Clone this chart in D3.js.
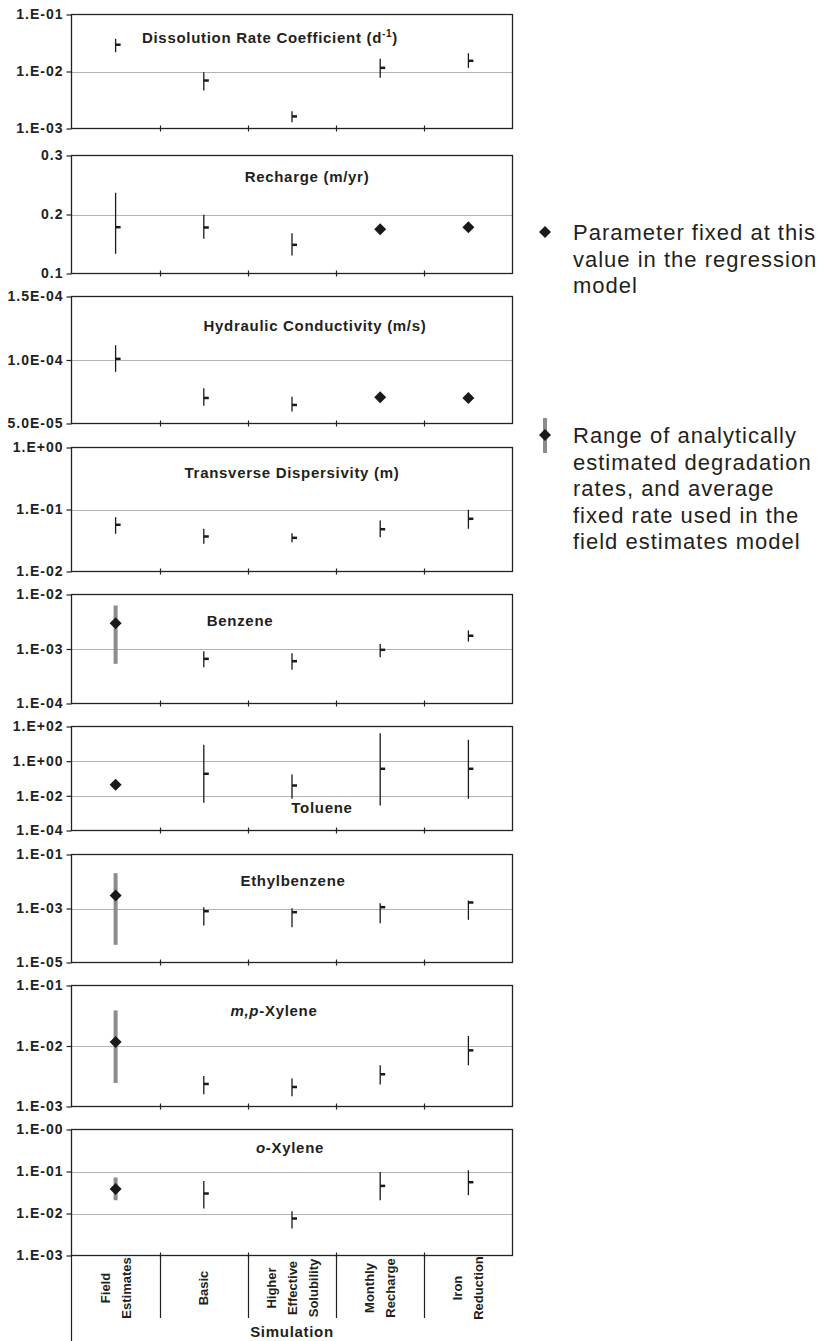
<!DOCTYPE html>
<html>
<head>
<meta charset="utf-8">
<script src="https://cdn.jsdelivr.net/npm/d3@7"></script>
<style>
  body { margin: 0; background: #fff; }
  text { font-family: "Liberation Sans", Arial, sans-serif; fill: #231f20; }
</style>
</head>
<body>
<div id="chart"></div>
<script>
// simulations along the x axis
const simulations = ["Field Estimates", "Basic", "Higher Effective Solubility", "Monthly Recharge", "Iron Reduction"];
const simulationLines = [["Field", "Estimates"], ["Basic"], ["Higher", "Effective", "Solubility"], ["Monthly", "Recharge"], ["Iron", "Reduction"]];

// panel titles as [text, style] pieces
const panelTitles = [
    [["Dissolution Rate Coefficient (d", ""], ["-1", "sup"], [")", "back"]],
    [["Recharge (m/yr)", ""]],
    [["Hydraulic Conductivity (m/s)", ""]],
    [["Transverse Dispersivity (m)", ""]],
    [["Benzene", ""]],
    [["Toluene", ""]],
    [["Ethylbenzene", ""]],
    [["m,p", "italic"], ["-Xylene", ""]],
    [["o", "italic"], ["-Xylene", ""]]
];
const scaleTypes = ["log", "linear", "linear", "log", "log", "log", "log", "log", "log"];
const tickValues = [
    [1e-3, 1e-2, 1e-1],
    [0.1, 0.2, 0.3],
    [5e-5, 1e-4, 1.5e-4],
    [1e-2, 1e-1, 1],
    [1e-4, 1e-3, 1e-2],
    [1e-4, 1e-2, 1, 100],
    [1e-5, 1e-3, 1e-1],
    [1e-3, 1e-2, 1e-1],
    [1e-3, 1e-2, 1e-1, 1]
];
const tickLabels = [
    ["1.E-03", "1.E-02", "1.E-01"],
    ["0.1", "0.2", "0.3"],
    ["5.0E-05", "1.0E-04", "1.5E-04"],
    ["1.E-02", "1.E-01", "1.E+00"],
    ["1.E-04", "1.E-03", "1.E-02"],
    ["1.E-04", "1.E-02", "1.E+00", "1.E+02"],
    ["1.E-05", "1.E-03", "1.E-01"],
    ["1.E-03", "1.E-02", "1.E-01"],
    ["1.E-03", "1.E-02", "1.E-01", "1.E-00"]
];

// estimated value, lower and upper bound, one row per panel
const estimates = [
    [0.0295, 0.00695, 0.00163, 0.0116, 0.0154],
    [0.1785, 0.178, 0.1486, 0.175, 0.1785],
    [1.009e-4, 7.01e-5, 6.46e-5, 7.07e-5, 7.01e-5],
    [0.0567, 0.0367, 0.0349, 0.0481, 0.0708],
    [0.00297, 0.00066, 0.000597, 0.000966, 0.00175],
    [0.0433, 0.187, 0.0394, 0.363, 0.363],
    [0.00303, 0.000794, 0.00073, 0.00112, 0.00167],
    [0.0116, 0.00236, 0.0021, 0.00341, 0.00848],
    [0.0385, 0.0299, 0.0076, 0.0454, 0.0556]
];
const lowerBounds = [
    [0.0218, 0.00465, 0.00129, 0.00776, 0.0116],
    [0.1334, 0.1588, 0.1305, null, null],
    [9.07e-5, 6.39e-5, 5.94e-5, null, null],
    [0.0406, 0.028, 0.0297, 0.0357, 0.0489],
    [0.000535, 0.000464, 0.000415, 0.000708, 0.00137],
    [0.032, 0.00395, 0.00673, 0.00277, 0.00673],
    [4.53e-5, 0.000234, 0.000203, 0.000286, 0.000381],
    [0.00245, 0.0016, 0.00148, 0.00231, 0.0048],
    [0.0207, 0.0131, 0.0044, 0.0207, 0.0273]
];
const upperBounds = [
    [0.0375, 0.0097, 0.0020, 0.0167, 0.0209],
    [0.2368, 0.1995, 0.1683, null, null],
    [1.116e-4, 7.77e-5, 7.11e-5, null, null],
    [0.0752, 0.0489, 0.0415, 0.0665, 0.0989],
    [0.00628, 0.00091, 0.000838, 0.00124, 0.00219],
    [0.058, 8.8, 0.17, 41, 17.1],
    [0.0203, 0.00112, 0.00102, 0.00157, 0.00198],
    [0.0387, 0.0032, 0.0029, 0.0048, 0.0146],
    [0.072, 0.0597, 0.0113, 0.0978, 0.107]
];
// "range" = regression estimate with range, "fixed" = fixed parameter, "field" = analytical range + average
const markTypes = [
    ["range", "range", "range", "range", "range"],
    ["range", "range", "range", "fixed", "fixed"],
    ["range", "range", "range", "fixed", "fixed"],
    ["range", "range", "range", "range", "range"],
    ["field", "range", "range", "range", "range"],
    ["field", "range", "range", "range", "range"],
    ["field", "range", "range", "range", "range"],
    ["field", "range", "range", "range", "range"],
    ["field", "range", "range", "range", "range"]
];

const legendFixed = ["Parameter fixed at this", "value in the regression", "model"];
const legendField = ["Range of analytically", "estimated degradation", "rates, and average", "fixed rate used in the", "field estimates model"];

// layout
const width = 819, height = 1341
const left = 71.5, right = 512.5
const panelTop = [14.5, 155.5, 296.5, 447.5, 594.5, 726.5, 854.5, 985.5, 1129.5]
const panelBottom = [128.5, 273.5, 423.5, 571.5, 703.5, 830.5, 962.5, 1106.5, 1255.5]
const titlePos = [[270, 43], [307, 182], [315, 331], [292, 478], [240, 626], [322, 813], [293, 886], [274, 1016], [290, 1153]]

const svg = d3.select("#chart")
    .append("svg")
    .attr("width", width)
    .attr("height", height)

const x = d3.scaleBand()
    .domain(simulations)
    .range([left, right])
const cx = s => x(s) + x.bandwidth() / 2

const diamond = d3.symbol().type(d3.symbolSquare).size(72)

function drawDiamond(g, px, py) {
    g.append("path")
        .attr("d", diamond())
        .attr("transform", `translate(${px},${py}) rotate(45)`)
        .attr("fill", "#1a1a1a")
}

panelTitles.forEach((title, p) => {
    const ticks = tickValues[p]
    const y = (scaleTypes[p] === "log" ? d3.scaleLog() : d3.scaleLinear())
        .domain([ticks[0], ticks[ticks.length - 1]])
        .range([panelBottom[p], panelTop[p]])

    const g = svg.append("g")

    // gridlines at the inner ticks
    g.selectAll(".grid")
        .data(ticks.slice(1, -1))
        .join("line")
        .attr("x1", left)
        .attr("x2", right)
        .attr("y1", d => Math.round(y(d)) + 0.5)
        .attr("y2", d => Math.round(y(d)) + 0.5)
        .attr("stroke", "#b3b3b3")
        .attr("stroke-width", 1)

    // y axis
    const ax = g.append("g")
        .attr("transform", `translate(${left},0)`)
        .call(d3.axisLeft(y)
            .tickValues(ticks)
            .tickSize(5)
            .tickSizeOuter(0)
            .tickFormat((d, i) => tickLabels[p][i]))
    ax.select(".domain").remove()
    ax.selectAll("line").attr("stroke", "#222").attr("stroke-width", 1.2)
    ax.selectAll("text")
        .attr("x", -8)
        .style("font-size", "14px")
        .style("font-weight", "bold")
        .style("letter-spacing", "1px")
        .attr("fill", "#231f20")

    // frame
    g.append("rect")
        .attr("x", left)
        .attr("y", panelTop[p])
        .attr("width", right - left)
        .attr("height", panelBottom[p] - panelTop[p])
        .attr("fill", "none")
        .attr("stroke", "#222")
        .attr("stroke-width", 1.3)

    // category ticks crossing the bottom axis
    g.selectAll(".xtick")
        .data(simulations.slice(1))
        .join("line")
        .attr("x1", d => Math.round(x(d)) + 0.5)
        .attr("x2", d => Math.round(x(d)) + 0.5)
        .attr("y1", panelBottom[p] - 3)
        .attr("y2", panelBottom[p] + 3)
        .attr("stroke", "#222")
        .attr("stroke-width", 1.2)

    // title
    const t = g.append("text")
        .attr("x", titlePos[p][0])
        .attr("y", titlePos[p][1])
        .attr("text-anchor", "middle")
        .style("font-size", "15px")
        .style("font-weight", "bold")
        .style("letter-spacing", "0.7px")
    title.forEach(([txt, kind]) => {
        const ts = t.append("tspan").text(txt)
        if (kind === "italic") ts.style("font-style", "italic")
        if (kind === "sup") ts.attr("dy", -6).style("font-size", "10px")
        if (kind === "back") ts.attr("dy", 6)
    })

    // marks
    simulations.forEach((s, i) => {
        const type = markTypes[p][i]
        const px = cx(s)
        const est = estimates[p][i]
        if (type === "range") {
            g.append("line")
                .attr("x1", px).attr("x2", px)
                .attr("y1", y(lowerBounds[p][i]))
                .attr("y2", y(upperBounds[p][i]))
                .attr("stroke", "#1a1a1a")
                .attr("stroke-width", 1.3)
            g.append("line")
                .attr("x1", px).attr("x2", px + 5)
                .attr("y1", y(est)).attr("y2", y(est))
                .attr("stroke", "#1a1a1a")
                .attr("stroke-width", 2.5)
        } else if (type === "field") {
            g.append("line")
                .attr("x1", px).attr("x2", px)
                .attr("y1", y(lowerBounds[p][i]))
                .attr("y2", y(upperBounds[p][i]))
                .attr("stroke", "#8c8c8c")
                .attr("stroke-width", 4)
            drawDiamond(g, px, y(est))
        } else {
            drawDiamond(g, px, y(est))
        }
    })
})

// category label area under the last panel
const base = panelBottom[panelBottom.length - 1]
svg.append("line")
    .attr("x1", left).attr("x2", left)
    .attr("y1", base).attr("y2", height)
    .attr("stroke", "#222").attr("stroke-width", 1.2)
svg.selectAll(".sep")
    .data(simulations.slice(1))
    .join("line")
    .attr("x1", d => Math.round(x(d)) + 0.5)
    .attr("x2", d => Math.round(x(d)) + 0.5)
    .attr("y1", base)
    .attr("y2", 1318)
    .attr("stroke", "#222")
    .attr("stroke-width", 1.2)

simulationLines.forEach((lines, i) => {
    const px = cx(simulations[i])
    lines.forEach((line, j) => {
        svg.append("text")
            .attr("transform", `translate(${px + (j - (lines.length - 1) / 2) * 21},1288) rotate(-90)`)
            .attr("text-anchor", "middle")
            .attr("dy", "0.35em")
            .style("font-size", "13px")
            .style("font-weight", "bold")
            .text(line)
    })
})

svg.append("text")
    .attr("x", 292)
    .attr("y", 1337)
    .attr("text-anchor", "middle")
    .style("font-size", "15px")
    .style("font-weight", "bold")
    .style("letter-spacing", "0.7px")
    .text("Simulation")

// legend
const legend = svg.append("g")
drawDiamond(legend, 545, 232)
legend.append("line")
    .attr("x1", 545).attr("x2", 545)
    .attr("y1", 418).attr("y2", 453)
    .attr("stroke", "#8c8c8c")
    .attr("stroke-width", 4)
drawDiamond(legend, 545, 435)

legend.selectAll(".l1")
    .data(legendFixed)
    .join("text")
    .attr("x", 573)
    .attr("y", (d, i) => 240 + i * 26.5)
    .style("font-size", "22px")
    .style("letter-spacing", "1px")
    .text(d => d)
legend.selectAll(".l2")
    .data(legendField)
    .join("text")
    .attr("x", 573)
    .attr("y", (d, i) => 443 + i * 26.5)
    .style("font-size", "22px")
    .style("letter-spacing", "1px")
    .text(d => d)
</script>
</body>
</html>
